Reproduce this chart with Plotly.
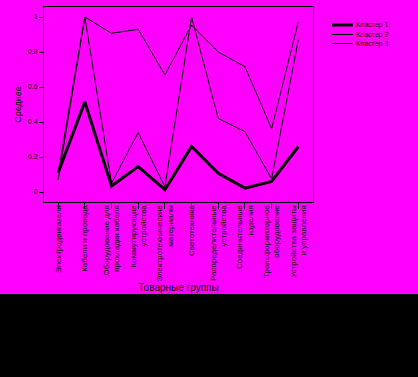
import plotly.graph_objects as go

categories = ["Электродвигатели", "Кабели и провода", "Оборудование для<br>прокладки кабеля",
              "Коммутирующие<br>устройства", "Электротехнические<br>материалы", "Светотехника",
              "Распределительные<br>устройства", "Соединительные<br>изделия",
              "Трансформаторное<br>оборудование", "Устройства защиты<br>и управления"]
cluster1 = [0.11, 0.515, 0.034, 0.145, 0.013, 0.26, 0.107, 0.022, 0.06, 0.26]
cluster2 = [0.07, 1.0, 0.05, 0.34, 0.03, 1.0, 0.42, 0.345, 0.075, 0.869]
cluster3 = [0.11, 1.0, 0.907, 0.93, 0.669, 0.954, 0.80, 0.716, 0.362, 0.973]
series_names = ["Кластер 1", "Кластер 2", "Кластер 3"]
y_ticks = [0, 0.2, 0.4, 0.6, 0.8, 1]
y_ticktext = ["0", "0.2", "0.4", "0.6", "0.8", "1"]

W, H = 418, 377
L, R, T, B = 44, 313, 7, 202
pw, ph = R - L, B - T

def px(x):
    return (x - L) / pw

def py(y):
    return (B - y) / ph

xs = list(range(len(categories)))
fig = go.Figure()
widths = [3, 1, 1]
for name, vals, w in zip(series_names, [cluster1, cluster2, cluster3], widths):
    fig.add_trace(go.Scatter(x=xs, y=vals, mode="lines", name=name,
                             line=dict(color="black", width=w), showlegend=False))

shapes = [
    dict(type="rect", xref="paper", yref="paper", x0=px(-5), x1=px(W + 5),
         y0=py(H + 5), y1=py(294), fillcolor="black", line=dict(width=0), layer="above"),
]
annotations = []
leg_y = [25, 34.5, 43.5]
for name, w, yy in zip(series_names, widths, leg_y):
    shapes.append(dict(type="line", xref="paper", yref="paper", x0=px(332), x1=px(353),
                       y0=py(yy), y1=py(yy), line=dict(color="black", width=w)))
    annotations.append(dict(text=name, xref="paper", yref="paper", x=px(354), y=py(yy),
                            xanchor="left", yanchor="middle", showarrow=False,
                            font=dict(size=7, color="black", family="Arial")))

fig.update_layout(
    width=W, height=H,
    margin=dict(l=L, r=W - R, t=T, b=H - B),
    paper_bgcolor="#FF00FF", plot_bgcolor="#FF00FF",
    font=dict(family="Arial", color="black", size=7),
    shapes=shapes, annotations=annotations,
    xaxis=dict(range=[-0.53, 9.55], tickmode="array", tickvals=xs, ticktext=categories,
               tickangle=-90, ticks="outside", ticklen=6, tickcolor="black",
               showline=True, mirror=True, linecolor="black", linewidth=1,
               showgrid=False, zeroline=False, tickfont=dict(size=8),
               ticklabelstandoff=-7,
               title=dict(text="Товарные группы", font=dict(size=10), standoff=0)),
    yaxis=dict(range=[-10 / 175, 1 + 10 / 175], tickmode="array", tickvals=y_ticks,
               ticktext=y_ticktext, ticks="outside", ticklen=4, tickcolor="black",
               showline=True, mirror=True, linecolor="black", linewidth=1,
               showgrid=False, zeroline=False, tickfont=dict(size=7),
               title=dict(text="Среднее", font=dict(size=9), standoff=4)),
)
fig.write_html("out.html", config={"displayModeBar": False},
               post_script="document.body.style.margin='0';document.body.style.padding='0';")
